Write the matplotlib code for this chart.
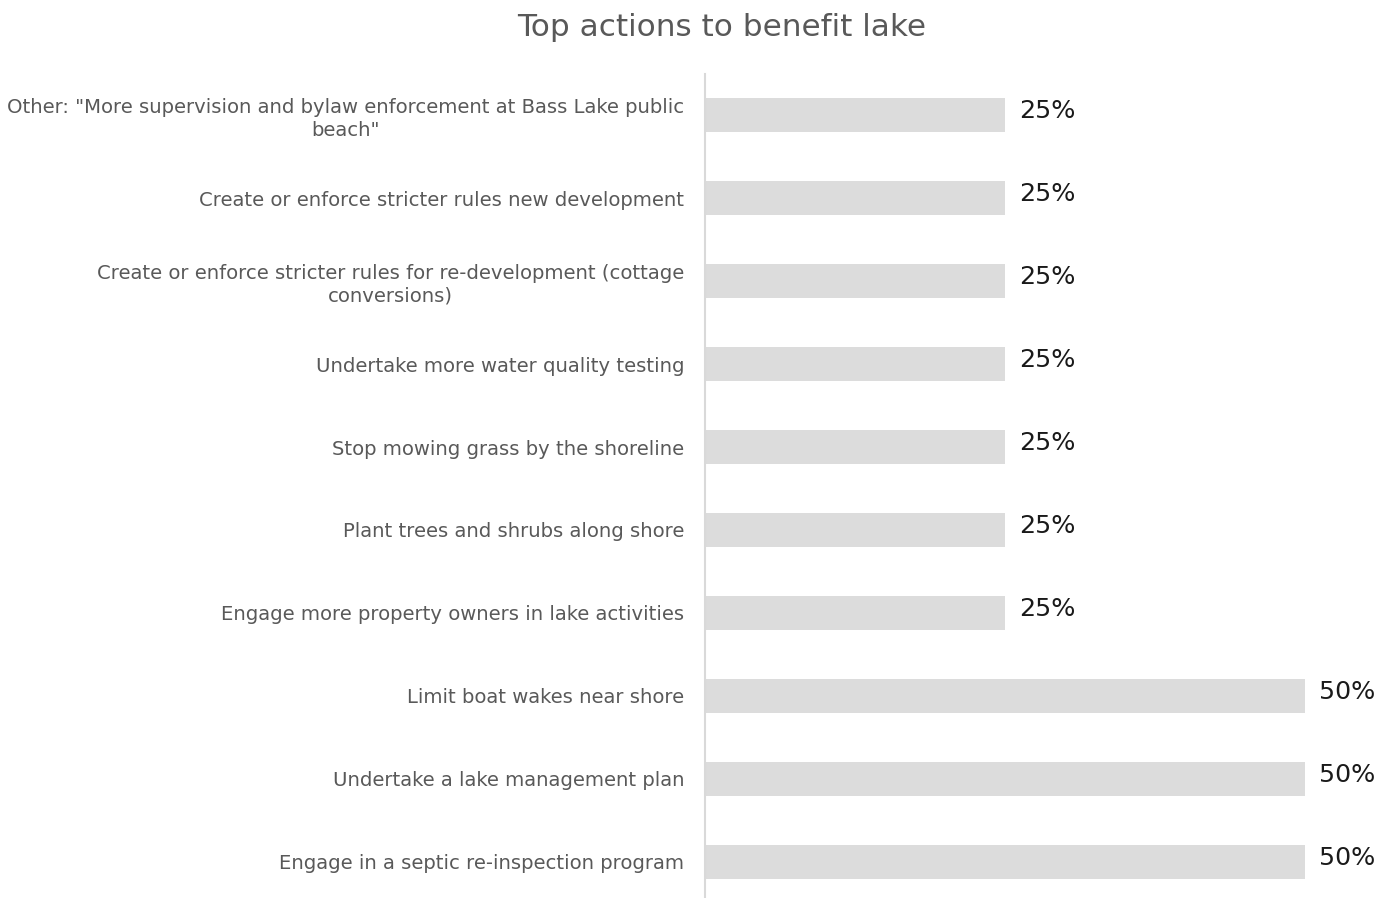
import matplotlib.pyplot as plt

# Data (top to bottom as shown)
actions = [
    'Other: "More supervision and bylaw enforcement at Bass Lake public\nbeach"',
    'Create or enforce stricter rules new development',
    'Create or enforce stricter rules for re-development (cottage\nconversions)',
    'Undertake more water quality testing',
    'Stop mowing grass by the shoreline',
    'Plant trees and shrubs along shore',
    'Engage more property owners in lake activities',
    'Limit boat wakes near shore',
    'Undertake a lake management plan',
    'Engage in a septic re-inspection program',
]
shares = [0.25, 0.25, 0.25, 0.25, 0.25, 0.25, 0.25, 0.50, 0.50, 0.50]
title = "Top actions to benefit lake"

plt.rcParams['font.family'] = ['DejaVu Sans']

fig = plt.figure(figsize=(13.84, 8.98), dpi=100)
ax = fig.add_axes([705 / 1384, -0.006, 660 / 1384, 0.924])

pos = range(len(actions))
bars = ax.barh(pos, shares, height=0.41, color='#dcdcdc')
ax.set_ylim(len(actions) - 0.5, -0.5)
ax.set_xlim(0, 0.55)

for bar, v in zip(bars, shares):
    ax.annotate(f'{v:.0%}', (bar.get_width(), bar.get_y() + bar.get_height() / 2),
                xytext=(10, 3), textcoords='offset points',
                ha='left', va='center', fontsize=18.3, color='#1a1a1a')

ax.set_yticks(list(pos))
ax.set_yticklabels(actions, fontsize=14.1, color='#595959',
                   multialignment='center', linespacing=1.25)
ax.tick_params(axis='y', length=0, pad=15)
ax.set_xticks([])

for s in ['top', 'right', 'bottom']:
    ax.spines[s].set_visible(False)
ax.spines['left'].set_color('#d9d9d9')
ax.spines['left'].set_linewidth(1.5)

fig.text(722 / 1384, 1 - 27 / 898, title, ha='center', va='center',
         fontsize=22.4, color='#595959')

fig.savefig('out.png', dpi=100)
